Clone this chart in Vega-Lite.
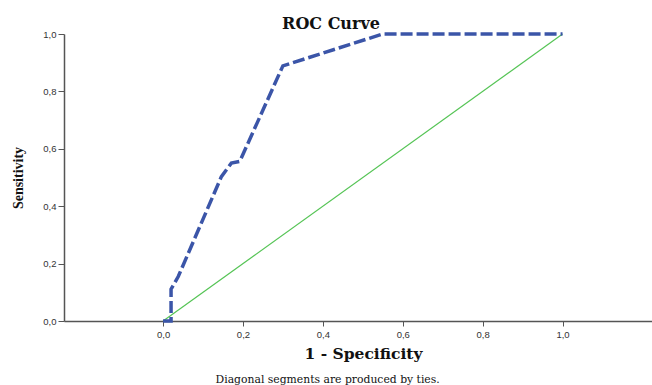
{
  "$schema": "https://vega.github.io/schema/vega-lite/v6.json",
  "width": 588,
  "height": 287,
  "autosize": {"type": "none"},
  "padding": {"left": 64, "top": 34, "right": 0, "bottom": 64},
  "background": "white",
  "config": {"view": {"stroke": null}},
  "title": {
    "text": "ROC Curve",
    "font": "DejaVu Serif",
    "fontSize": 16,
    "fontWeight": "bold",
    "color": "#111",
    "anchor": "middle",
    "dx": -27,
    "offset": -5
  },
  "datasets": {
    "roc": [
      {"fpr": 0.0, "tpr": 0.0},
      {"fpr": 0.02, "tpr": 0.0},
      {"fpr": 0.02, "tpr": 0.111},
      {"fpr": 0.038, "tpr": 0.155},
      {"fpr": 0.146, "tpr": 0.503},
      {"fpr": 0.171, "tpr": 0.55},
      {"fpr": 0.192, "tpr": 0.556},
      {"fpr": 0.30, "tpr": 0.889},
      {"fpr": 0.55, "tpr": 1.0},
      {"fpr": 1.0, "tpr": 1.0}
    ],
    "diag": [
      {"fpr": 0.0, "tpr": 0.0},
      {"fpr": 1.0, "tpr": 1.0}
    ],
    "note": [
      {"label": "Diagonal segments are produced by ties."}
    ]
  },
  "layer": [
    {
      "mark": {"type": "rule", "color": "#8a8a8a", "strokeWidth": 1.5},
      "encoding": {"y": {"datum": 1}}
    },
    {
      "data": {"name": "diag"},
      "mark": {"type": "line", "color": "#55c455", "strokeWidth": 1.2},
      "encoding": {
        "x": {"field": "fpr", "type": "quantitative"},
        "y": {"field": "tpr", "type": "quantitative"}
      }
    },
    {
      "data": {"name": "roc"},
      "mark": {"type": "line", "color": "#3b55a8", "strokeWidth": 3.5, "strokeDash": [12, 4]},
      "encoding": {
        "x": {
          "field": "fpr",
          "type": "quantitative",
          "scale": {"domain": [-0.248, 1.224], "nice": false, "zero": false},
          "axis": {
            "title": "1 - Specificity",
            "titleFont": "DejaVu Serif",
            "titleFontSize": 15.5,
            "titleFontWeight": "bold",
            "titleColor": "#111",
            "titlePadding": 8,
            "titleX": 299,
            "values": [0, 0.2, 0.4, 0.6, 0.8, 1.0],
            "labelExpr": "replace(format(datum.value, '.1f'), '.', ',')",
            "labelFont": "Liberation Sans",
            "labelFontSize": 9.5,
            "labelColor": "#333",
            "labelPadding": 3,
            "tickColor": "#555",
            "tickSize": 5,
            "domainColor": "#555",
            "domainWidth": 1.5,
            "grid": false
          }
        },
        "y": {
          "field": "tpr",
          "type": "quantitative",
          "scale": {"domain": [0, 1], "nice": false},
          "axis": {
            "title": "Sensitivity",
            "titleFont": "Liberation Serif",
            "titleFontSize": 14,
            "titleFontWeight": "bold",
            "titleColor": "#111",
            "titlePadding": 17,
            "values": [0, 0.2, 0.4, 0.6, 0.8, 1.0],
            "labelExpr": "replace(format(datum.value, '.1f'), '.', ',')",
            "labelFont": "Liberation Sans",
            "labelFontSize": 9.5,
            "labelColor": "#333",
            "labelPadding": 2,
            "tickColor": "#555",
            "tickSize": 6,
            "domainColor": "#555",
            "domainWidth": 1.5,
            "grid": false
          }
        }
      }
    },
    {
      "data": {"name": "note"},
      "mark": {"type": "text", "font": "DejaVu Serif", "fontSize": 10.8, "color": "#111", "clip": false, "baseline": "middle", "align": "center"},
      "encoding": {
        "x": {"datum": 0.412},
        "y": {"datum": -0.206},
        "text": {"field": "label"}
      }
    }
  ]
}
